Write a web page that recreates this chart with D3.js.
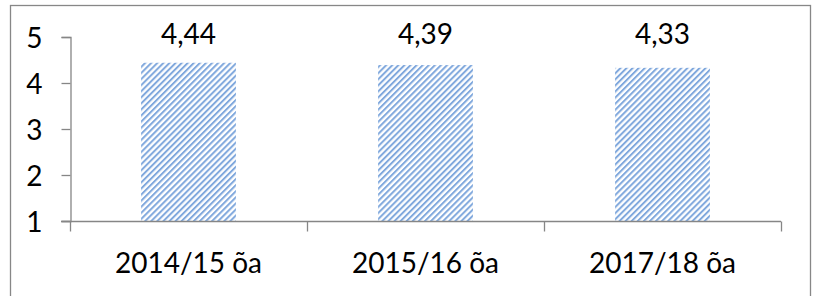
<!DOCTYPE html>
<html>
<head>
<meta charset="utf-8">
<script src="https://cdn.jsdelivr.net/npm/d3@7"></script>
<style>
  body { margin: 0; background: #fff; }
  text { font-family: Lato, "Open Sans", sans-serif; fill: #000; }
</style>
</head>
<body>
<svg id="chart" width="813" height="296"></svg>
<script>
// data
const categories = ["2014/15 õa", "2015/16 õa", "2017/18 õa"];
const values = [4.44, 4.39, 4.33];
const labels = ["4,44", "4,39", "4,33"];
const yTicks = [1, 2, 3, 4, 5];

const svg = d3.select("#chart");
const fontSize = 28;

// outer frame
svg.append("rect")
    .attr("x", 10.5).attr("y", 5.5)
    .attr("width", 800).attr("height", 300)
    .attr("fill", "none")
    .attr("stroke", "#878787")
    .attr("stroke-width", 1.3);

// striped fill
const pat = svg.append("defs").append("pattern")
    .attr("id", "stripes")
    .attr("patternUnits", "userSpaceOnUse")
    .attr("width", 4.3).attr("height", 4.3)
    .attr("patternTransform", "rotate(45)");
pat.append("rect").attr("width", 4.3).attr("height", 4.3).attr("fill", "#fff");
pat.append("rect").attr("width", 2).attr("height", 4.3).attr("fill", "#80a8dd");

let x = d3.scaleBand()
    .domain(categories)
    .range([70, 781])
    .paddingInner(0.6)
    .paddingOuter(0.3);

let y = d3.scaleLinear()
    .domain([1, 5])
    .range([221, 37]);

// bars
svg.append("g")
    .selectAll("rect")
    .data(values)
    .enter().append("rect")
    .attr("x", function(d, i) { return x(categories[i]); })
    .attr("y", function(d) { return y(d); })
    .attr("width", x.bandwidth())
    .attr("height", function(d) { return y(1) - y(d); })
    .attr("fill", "url(#stripes)");

// y axis
const yAxis = svg.append("g")
    .attr("transform", "translate(70.5,0)")
    .call(d3.axisLeft(y).tickValues(yTicks).tickSize(9).tickPadding(19).tickFormat(d3.format("d")));
yAxis.select(".domain").attr("stroke", "#868686").attr("stroke-width", 1.3);
yAxis.selectAll(".tick line").attr("stroke", "#868686").attr("stroke-width", 1.3);
yAxis.selectAll("text")
    .style("font-size", fontSize + "px")
    .attr("dy", "0.36em")
    .attr("fill", "#000");

// x axis with boundary ticks
const step = (781 - 70) / categories.length;
const xg = svg.append("g").attr("transform", "translate(0,221.5)");
xg.append("line")
    .attr("x1", 61).attr("x2", 781)
    .attr("stroke", "#868686").attr("stroke-width", 1.3);
xg.selectAll("line.tk")
    .data(d3.range(categories.length + 1))
    .enter().append("line")
    .attr("class", "tk")
    .attr("x1", function(i) { return Math.round(70 + i * step) + 0.5; })
    .attr("x2", function(i) { return Math.round(70 + i * step) + 0.5; })
    .attr("y1", 0).attr("y2", 10)
    .attr("stroke", "#868686").attr("stroke-width", 1.3);
xg.selectAll("text")
    .data(categories)
    .enter().append("text")
    .attr("x", function(d) { return x(d) + x.bandwidth() / 2; })
    .attr("y", 51)
    .attr("text-anchor", "middle")
    .style("font-size", fontSize + "px")
    .text(function(d) { return d; });

// value labels, all on one line above the bars
svg.append("g")
    .selectAll("text")
    .data(labels)
    .enter().append("text")
    .attr("x", function(d, i) { return x(categories[i]) + x.bandwidth() / 2; })
    .attr("y", 44)
    .attr("text-anchor", "middle")
    .style("font-size", fontSize + "px")
    .text(function(d) { return d; });
</script>
</body>
</html>
